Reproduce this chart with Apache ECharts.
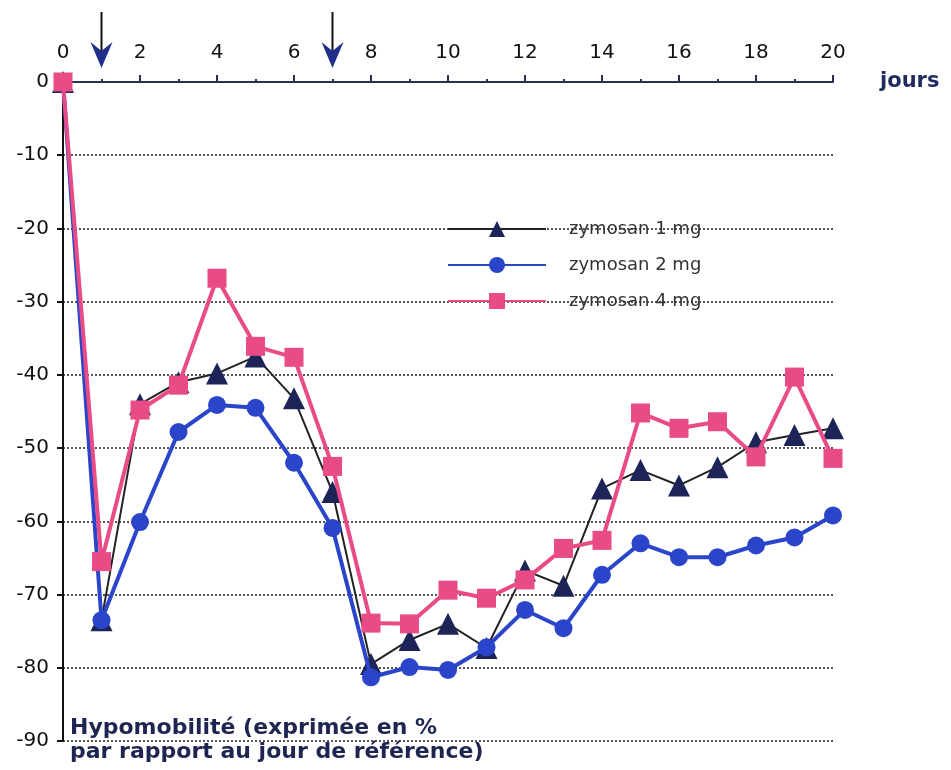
<!DOCTYPE html>
<html>
<head>
<meta charset="utf-8">
<script src="https://cdn.jsdelivr.net/npm/echarts@6/dist/echarts.min.js"></script>
<style>
  html, body { margin: 0; padding: 0; background: #fff; }
  #box { width: 951px; height: 770px; }
</style>
</head>
<body>
<div id="box"></div>
<script>
const days = [0, 1, 2, 3, 4, 5, 6, 7, 8, 9, 10, 11, 12, 13, 14, 15, 16, 17, 18, 19, 20]
const zym1 = [0, -73.5, -44, -41, -39.8, -37.5, -43.2, -56, -79.5, -76.2, -74, -77.3, -66.7, -68.8, -55.5, -53, -55.1, -52.6, -49.2, -48.2, -47.3]
const zym2 = [0, -73.5, -60.1, -47.8, -44.1, -44.5, -52, -60.9, -81.3, -79.9, -80.3, -77.2, -72.1, -74.6, -67.3, -63, -64.9, -64.9, -63.3, -62.2, -59.2]
const zym4 = [0, -65.5, -44.8, -41.4, -26.8, -36.1, -37.6, -52.5, -73.9, -74, -69.4, -70.5, -68, -63.7, -62.6, -45.2, -47.3, -46.4, -51.2, -40.3, -51.4]
const seriesNames = ['zymosan 1 mg', 'zymosan 2 mg', 'zymosan 4 mg']
const arrowDays = [1, 7]
const yTitle = 'Hypomobilité (exprimée en %\npar rapport au jour de référence)'

const pair = (arr) => days.map((d, i) => [d, arr[i]])

const chart = echarts.init(document.getElementById('box'))
chart.setOption({
  animation: false,
  grid: { left: 63, right: 118, top: 82, bottom: 29 },
  title: {
    text: yTitle,
    left: 70,
    top: 716,
    padding: 0,
    textStyle: {
      fontFamily: 'DejaVu Sans',
      fontWeight: 'bold',
      fontSize: 22,
      lineHeight: 24,
      color: '#1e2550'
    }
  },
  legend: {
    orient: 'vertical',
    left: 447,
    top: 219,
    padding: 0,
    itemWidth: 98,
    itemHeight: 20,
    itemGap: 16,
    textStyle: {
      fontFamily: 'DejaVu Sans',
      fontSize: 18,
      lineHeight: 20,
      color: '#333',
      padding: [0, 0, 0, 18]
    },
    data: seriesNames
  },
  xAxis: {
    type: 'value',
    position: 'top',
    min: 0,
    max: 20,
    interval: 2,
    name: 'jours',
    nameLocation: 'end',
    nameGap: 47,
    nameTextStyle: {
      fontFamily: 'DejaVu Sans',
      fontWeight: 'bold',
      fontSize: 21,
      color: '#1f2a5e',
      verticalAlign: 'middle'
    },
    axisLine: { onZero: false, lineStyle: { color: '#2a3050', width: 2 } },
    axisTick: { show: true, length: 7, lineStyle: { color: '#2a3050', width: 2 } },
    minorTick: { show: true, splitNumber: 2, length: 3, lineStyle: { color: '#2a3050', width: 2 } },
    axisLabel: { fontFamily: 'DejaVu Sans', fontSize: 20, color: '#111', margin: 19 },
    splitLine: { show: false }
  },
  yAxis: {
    type: 'value',
    min: -90,
    max: 0,
    interval: 10,
    axisLine: { show: true, onZero: false, lineStyle: { color: '#111', width: 2 } },
    axisTick: { show: true, length: 6, lineStyle: { color: '#111', width: 2 } },
    axisLabel: { fontFamily: 'DejaVu Sans', fontSize: 20, color: '#111', margin: 14 },
    splitLine: {
      show: true,
      lineStyle: { color: '#555', width: 2, type: [2, 2] }
    }
  },
  series: [
    {
      name: seriesNames[0],
      type: 'line',
      data: pair(zym1),
      symbol: 'triangle',
      symbolSize: 22,
      lineStyle: { color: '#222', width: 2 },
      itemStyle: { color: '#1c2458' },
      z: 2
    },
    {
      name: seriesNames[1],
      type: 'line',
      data: pair(zym2),
      symbol: 'circle',
      symbolSize: 18,
      lineStyle: { color: '#2a45c9', width: 4 },
      itemStyle: { color: '#2a45c9' },
      z: 3
    },
    {
      name: seriesNames[2],
      type: 'line',
      data: pair(zym4),
      symbol: 'rect',
      symbolSize: 19,
      lineStyle: { color: '#e94b86', width: 4 },
      itemStyle: { color: '#e94b86' },
      z: 4
    }
  ]
})

// arrows above the axis marking the injection days
const arrows = []
arrowDays.forEach((d) => {
  const p = chart.convertToPixel({ gridIndex: 0 }, [d, 0])
  const cx = p[0]
  const tip = p[1] - 14
  arrows.push({
    type: 'line',
    shape: { x1: cx, y1: tip - 56, x2: cx, y2: tip - 14 },
    style: { stroke: '#111', lineWidth: 2 }
  })
  arrows.push({
    type: 'polygon',
    shape: { points: [[cx - 11, tip - 26], [cx, tip - 17], [cx + 11, tip - 26], [cx, tip]] },
    style: { fill: '#1f2f8a' }
  })
})
chart.setOption({ graphic: arrows })
</script>
</body>
</html>
